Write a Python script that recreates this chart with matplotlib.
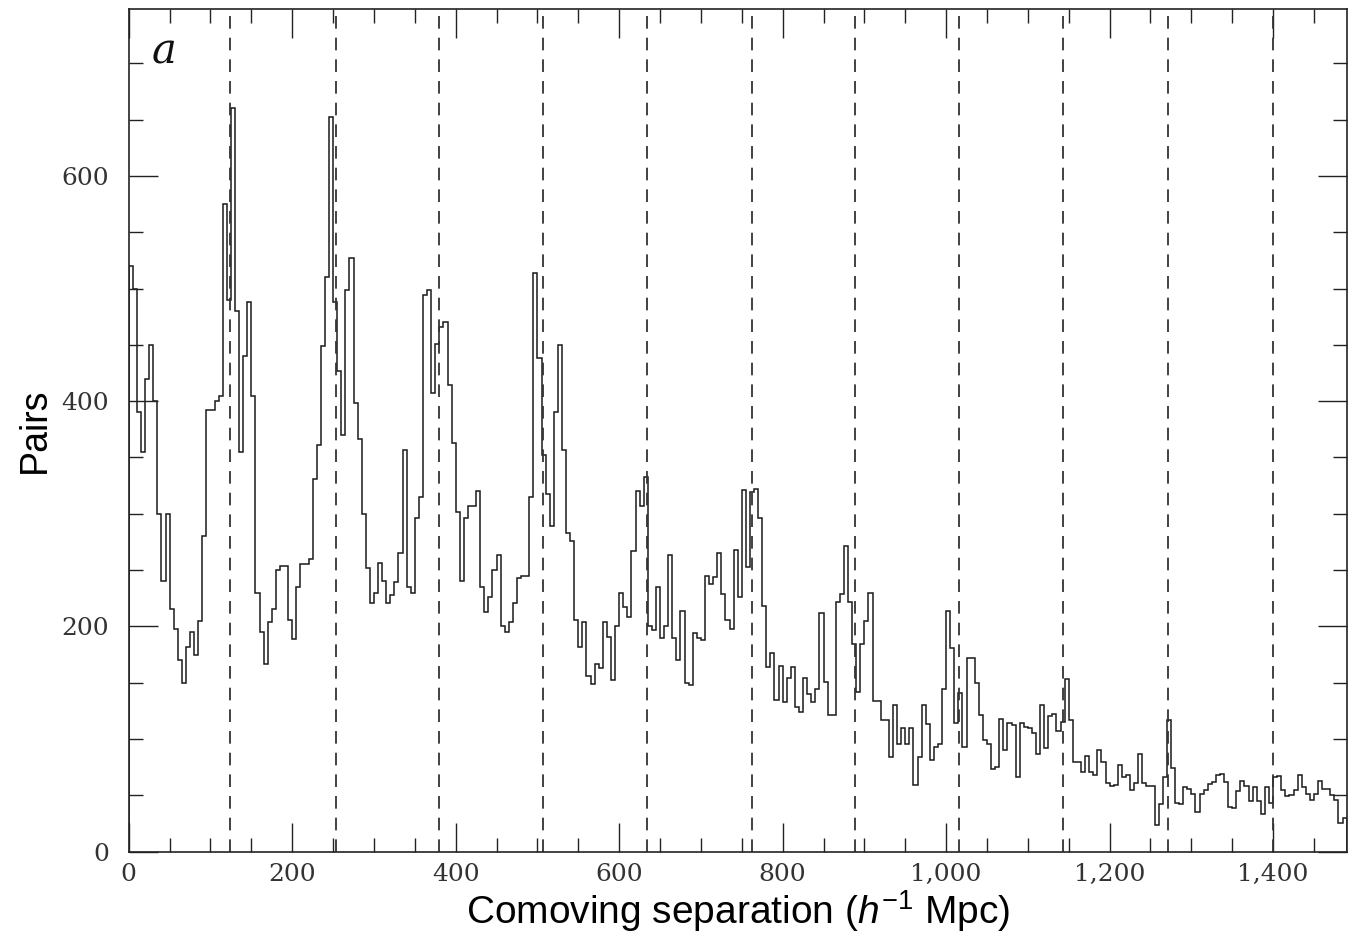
import numpy as np
import matplotlib
matplotlib.use("Agg")
import matplotlib.pyplot as plt
from matplotlib.ticker import MultipleLocator, FixedLocator, FixedFormatter

# pair counts per 5 h^-1 Mpc bin (0 .. 1490)
bin_width = 5
pairs = [
    520, 500, 390, 355, 420, 450, 400, 300, 240, 300,
    215, 198, 170, 150, 182, 195, 175, 205, 280, 392,
    392, 400, 405, 575, 490, 660, 480, 355, 440, 488,
    405, 230, 195, 167, 204, 215, 250, 254, 254, 206,
    189, 235, 255, 255, 260, 331, 361, 449, 510, 652,
    488, 427, 370, 499, 527, 398, 366, 300, 252, 221,
    230, 256, 240, 221, 228, 239, 265, 357, 235, 230,
    296, 315, 494, 499, 407, 451, 466, 470, 414, 363,
    302, 240, 296, 307, 307, 320, 235, 213, 226, 250,
    263, 200, 195, 204, 221, 243, 245, 245, 315, 514,
    438, 352, 318, 289, 390, 450, 357, 283, 276, 206,
    182, 204, 156, 149, 167, 163, 204, 191, 152, 200,
    230, 217, 208, 267, 320, 307, 333, 200, 197, 235,
    190, 200, 263, 190, 170, 214, 150, 148, 194, 190,
    188, 245, 238, 244, 265, 229, 206, 198, 268, 226,
    321, 253, 319, 322, 296, 218, 164, 176, 135, 165,
    133, 154, 164, 128, 124, 154, 140, 133, 144, 212,
    151, 121, 121, 222, 229, 271, 222, 184, 142, 184,
    205, 230, 134, 134, 117, 117, 84, 130, 96, 110,
    96, 110, 59, 84, 130, 113, 81, 93, 96, 144,
    214, 181, 114, 141, 93, 172, 172, 150, 121, 99,
    96, 73, 75, 118, 90, 114, 112, 66, 114, 111,
    110, 105, 87, 130, 92, 120, 122, 107, 115, 153,
    117, 80, 80, 71, 85, 71, 68, 90, 80, 61,
    58, 59, 77, 66, 68, 55, 61, 87, 61, 58,
    58, 24, 42, 66, 117, 74, 43, 42, 57, 56,
    51, 35, 51, 55, 60, 62, 68, 69, 62, 40,
    39, 54, 63, 58, 45, 57, 45, 33, 57, 43,
    66, 67, 55, 49, 50, 55, 68, 57, 51, 46,
    51, 63, 56, 56, 50, 46, 25, 30,
]

# positions of the dashed lines (~128 h^-1 Mpc spacing)
period_lines = [124, 253, 380, 507, 634, 762, 888, 1016, 1143, 1271, 1400]

x_ticks = [0, 200, 400, 600, 800, 1000, 1200, 1400]
x_labels = ["0", "200", "400", "600", "800", "1,000", "1,200", "1,400"]
y_ticks = [0, 200, 400, 600]
y_labels = ["0", "200", "400", "600"]

plt.rcParams["mathtext.fontset"] = "custom"
plt.rcParams["mathtext.rm"] = "Liberation Sans"
plt.rcParams["mathtext.it"] = "Liberation Sans:italic"

fig = plt.figure(figsize=(13.48, 9.38), dpi=100)
ax = fig.add_axes([0.0955, 0.0921, 0.9035, 0.898])

edges = np.arange(len(pairs) + 1) * bin_width
ax.stairs(pairs, edges, color="#1a1a1a", lw=1.1, baseline=0)

for xv in period_lines:
    ax.axvline(xv, color="#333333", lw=1.3, ls=(0, (7, 5)))

ax.set_xlim(0, 1490)
ax.set_ylim(0, 748)

ax.xaxis.set_major_locator(FixedLocator(x_ticks))
ax.xaxis.set_major_formatter(FixedFormatter(x_labels))
ax.xaxis.set_minor_locator(MultipleLocator(50))
ax.yaxis.set_major_locator(FixedLocator(y_ticks))
ax.yaxis.set_major_formatter(FixedFormatter(y_labels))
ax.yaxis.set_minor_locator(MultipleLocator(50))

ax.tick_params(which="both", direction="in", top=True, right=True, colors="#222222")
ax.tick_params(which="major", length=21, width=1.0)
ax.tick_params(which="minor", length=10, width=1.0)
ax.tick_params(axis="x", which="major", pad=8)
ax.tick_params(axis="y", which="major", pad=14)
for lab in ax.get_xticklabels() + ax.get_yticklabels():
    lab.set_fontfamily("DejaVu Serif")
    lab.set_fontsize(18)
    lab.set_color("#333333")

for sp in ax.spines.values():
    sp.set_linewidth(1.2)
    sp.set_color("#222222")

ax.set_xlabel("Comoving separation ($h^{-1}$ Mpc)", family="Liberation Sans",
              fontsize=28, labelpad=2)
ax.set_ylabel("Pairs", family="Liberation Sans", fontsize=27, labelpad=6)

ax.text(0.029, 0.95, "a", transform=ax.transAxes, family="DejaVu Serif",
        style="italic", fontsize=30, ha="center", va="center", color="#111111")

fig.savefig("out.png", dpi=100)
